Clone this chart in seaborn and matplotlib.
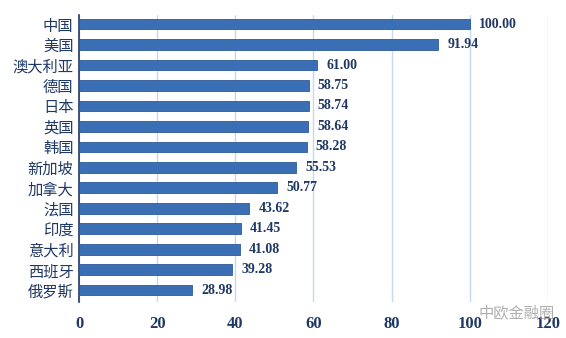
import matplotlib
matplotlib.use("Agg")
import matplotlib.pyplot as plt
import seaborn as sns
import pandas as pd

countries = ["中国", "美国", "澳大利亚", "德国", "日本", "英国", "韩国", "新加坡",
             "加拿大", "法国", "印度", "意大利", "西班牙", "俄罗斯"]
values = [100.00, 91.94, 61.00, 58.75, 58.74, 58.64, 58.28, 55.53,
          50.77, 43.62, 41.45, 41.08, 39.28, 28.98]
xticks = [0, 20, 40, 60, 80, 100, 120]

sns.set_theme(style="white")
plt.rcParams['font.family'] = ['Noto Sans CJK SC', 'DejaVu Sans']

navy = "#1F3864"
df = pd.DataFrame({"country": countries, "value": values})

fig = plt.figure(figsize=(5.66, 3.38), dpi=100)
ax = fig.add_axes([0.1396, 0.1065, 0.8284, 0.8495])

sns.barplot(data=df, x="value", y="country", color="#3A6EB5", width=0.52,
            saturation=1, ax=ax, zorder=3, edgecolor="#2E5A96", linewidth=0.6)

ax.set_xlim(0, 120)
ax.set_ylim(13.58, -0.45)
ax.set_xticks(xticks)
ax.set_xticklabels([str(t) for t in xticks], fontfamily="Liberation Serif",
                   fontweight="bold", fontsize=12, color=navy)
ax.tick_params(axis="x", length=0, pad=10)
ax.tick_params(axis="y", length=0, pad=4, labelsize=11, labelcolor=navy)
ax.set_xlabel("")
ax.set_ylabel("")
ax.grid(axis="x", color="#C6D9F0", linewidth=1, zorder=0)
for s in ["top", "right", "bottom"]:
    ax.spines[s].set_visible(False)
ax.spines["left"].set_color(navy)
ax.spines["left"].set_linewidth(1.2)

for i, v in enumerate(values):
    ax.text(v + 2.3, i, f"{v:.2f}", va="center", ha="left",
            fontfamily="Liberation Serif", fontweight="bold", fontsize=10, color=navy)

fig.text(0.845, 0.075, "中欧金融圈", fontsize=11, color="#9A9A9A", alpha=0.8,
         ha="left", va="center")

fig.savefig("out.png", dpi=100)
